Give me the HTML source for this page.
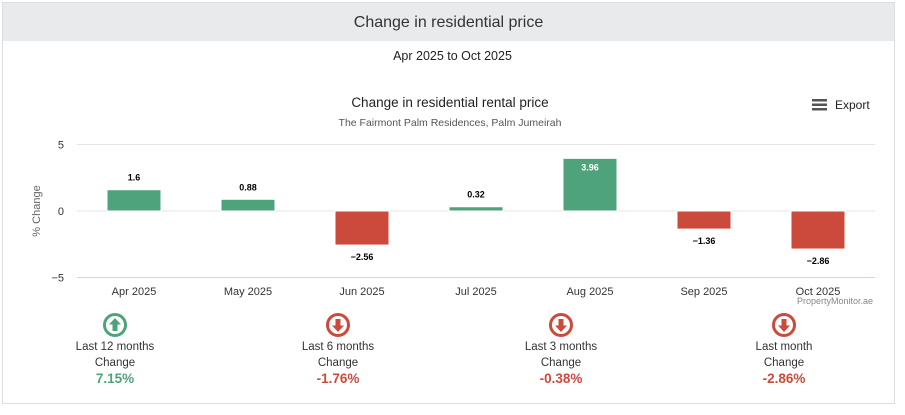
<!DOCTYPE html>
<html><head><meta charset="utf-8"><style>
body{margin:0;width:905px;height:415px;background:#fff;font-family:"Liberation Sans",sans-serif;overflow:hidden;position:relative}
.box{position:absolute;left:2px;top:2px;width:893px;height:402px;border:1px solid #ddd;box-sizing:border-box}
.hdr{position:absolute;left:0;top:0;width:100%;height:38px;background:#e9eaec;text-align:center;line-height:40px;font-size:16px;color:#333}
.sub{position:absolute;left:0;top:49px;width:100%;text-align:center;font-size:12.5px;color:#222}
.stat{position:absolute;top:312px;width:160px;text-align:center;font-size:11.5px;color:#333}
.stat .v{font-size:13.5px;font-weight:bold;margin-top:2px}
</style></head><body>
<div class="box">
<div class="hdr">Change in residential price</div>
</div>
<div class="sub">Apr 2025 to Oct 2025</div>
<svg id="chart" width="905" height="415" style="position:absolute;left:0;top:0">
<text x="450" y="107" text-anchor="middle" font-size="13.5" fill="#222">Change in residential rental price</text>
<text x="450" y="126" text-anchor="middle" font-size="10.5" fill="#555">The Fairmont Palm Residences, Palm Jumeirah</text>
<g><rect x="812" y="99" width="15" height="2.5" fill="#555"/><rect x="812" y="103.5" width="15" height="2.5" fill="#555"/><rect x="812" y="108" width="15" height="2.5" fill="#555"/><text x="835" y="109" font-size="12" fill="#222">Export</text></g>
<text transform="translate(40,211) rotate(-90)" text-anchor="middle" font-size="11" fill="#666">% Change</text>
<text x="873" y="304" text-anchor="end" font-size="9" fill="#888">PropertyMonitor.ae</text>
<g id="g"></g>
</svg>
<div class="stat" style="left:35px"><svg width="26" height="26" viewBox="0 0 26 26"><circle cx="13" cy="13" r="10.5" fill="none" stroke="#4fa37c" stroke-width="3"/><path d="M13 6 L19 12.5 H15.5 V19 H10.5 V12.5 H7 Z" fill="#4fa37c"/></svg><div>Last 12 months</div><div style="margin-top:4px">Change</div><div class="v" style="color:#4fa37c">7.15%</div></div>
<div class="stat" style="left:258px"><svg width="26" height="26" viewBox="0 0 26 26"><circle cx="13" cy="13" r="10.5" fill="none" stroke="#cc4a3b" stroke-width="3"/><path d="M13 20 L19 13.5 H15.5 V7 H10.5 V13.5 H7 Z" fill="#cc4a3b"/></svg><div>Last 6 months</div><div style="margin-top:4px">Change</div><div class="v" style="color:#cc4a3b">-1.76%</div></div>
<div class="stat" style="left:481px"><svg width="26" height="26" viewBox="0 0 26 26"><circle cx="13" cy="13" r="10.5" fill="none" stroke="#cc4a3b" stroke-width="3"/><path d="M13 20 L19 13.5 H15.5 V7 H10.5 V13.5 H7 Z" fill="#cc4a3b"/></svg><div>Last 3 months</div><div style="margin-top:4px">Change</div><div class="v" style="color:#cc4a3b">-0.38%</div></div>
<div class="stat" style="left:704px"><svg width="26" height="26" viewBox="0 0 26 26"><circle cx="13" cy="13" r="10.5" fill="none" stroke="#cc4a3b" stroke-width="3"/><path d="M13 20 L19 13.5 H15.5 V7 H10.5 V13.5 H7 Z" fill="#cc4a3b"/></svg><div>Last month</div><div style="margin-top:4px">Change</div><div class="v" style="color:#cc4a3b">-2.86%</div></div>
<script>
const categories=["Apr 2025","May 2025","Jun 2025","Jul 2025","Aug 2025","Sep 2025","Oct 2025"];
const values=[1.6,0.88,-2.56,0.32,3.96,-1.36,-2.86];
const labels=["1.6","0.88","\u22122.56","0.32","3.96","\u22121.36","\u22122.86"];
const yTicks=[5,0,-5];
const NS="http://www.w3.org/2000/svg",g=document.getElementById('g');
const x0=77,x1=875,bw=(x1-x0)/categories.length;
const y=v=>211-v*13.3;
function el(t,a,txt){const e=document.createElementNS(NS,t);for(const k in a)e.setAttribute(k,a[k]);if(txt!=null)e.textContent=txt;g.appendChild(e);return e;}
yTicks.forEach(t=>{
 const l=el('line',{x1:x0,x2:x1,y1:y(t),y2:y(t),stroke:t===-5?'#ccd6eb':'#e6e6e6','stroke-width':1});
 
 
 const tx=el('text',{x:64,y:y(t)+4,'text-anchor':'end','font-size':11,fill:'#333'},t===-5?'\u22125':String(t));
 
 
});
categories.forEach((c,i)=>{
 const cx=x0+bw*(i+0.5),v=values[i],w=54;
 const top=Math.min(y(v),y(0)),h=Math.abs(y(v)-y(0));
 const b=el('rect',{x:cx-w/2,y:top,width:w,height:h,fill:v>=0?'#4fa37c':'#cc4a3b',stroke:'#fff','stroke-width':1});
 
 
 const inside=v>3.5;
 const ly=v>=0?(inside?top+12:top-9):top+h+15;
 const t=el('text',{x:cx,y:ly,'text-anchor':'middle','font-size':9,'font-weight':'bold',fill:inside?'#fff':'#000'},labels[i]);
 
 
 const xl=el('text',{x:cx,y:295,'text-anchor':'middle','font-size':11,fill:'#333'},c);
 
 
});
</script>
</body></html>
